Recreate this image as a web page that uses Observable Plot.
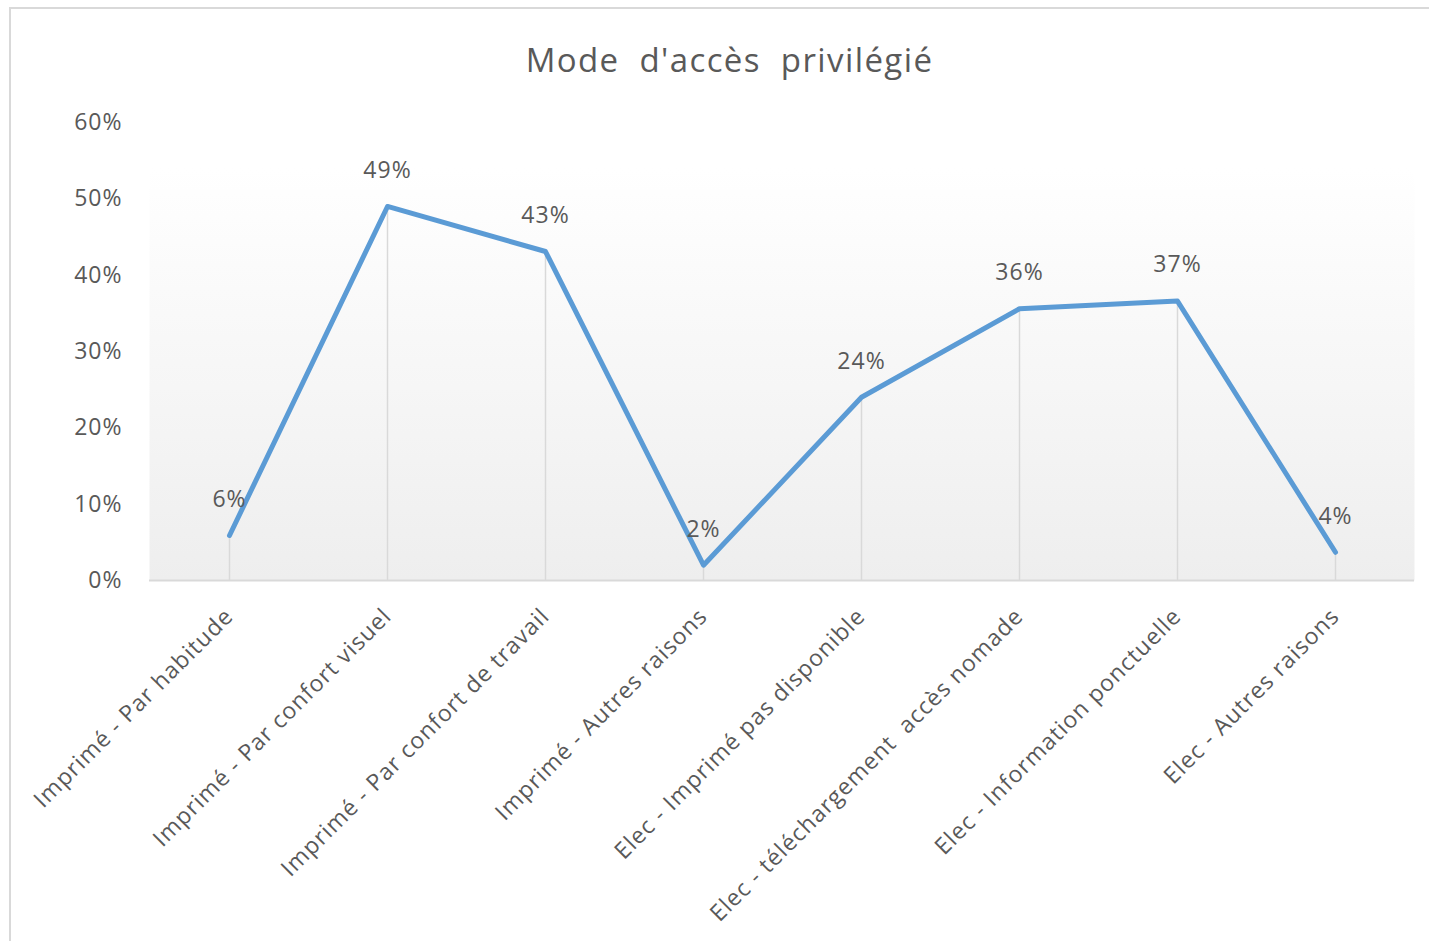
<!DOCTYPE html>
<html>
<head>
<meta charset="utf-8">
<script src="https://cdn.jsdelivr.net/npm/d3@7"></script>
<script src="https://cdn.jsdelivr.net/npm/@observablehq/plot@0.6"></script>
<style>
  body { margin: 0; background: #fff; font-family: "Open Sans", sans-serif; }
  #border { position: absolute; left: 9px; top: 7px; width: 1440px; height: 960px; border: 2px solid #d9d9d9; box-sizing: border-box; }
  #chart { position: absolute; left: 0; top: 0; width: 1429px; }
  #title { height: 100px; box-sizing: border-box; padding-top: 43px; padding-left: 30px; text-align: center; font-size: 33px; line-height: 33px; letter-spacing: 1.4px; word-spacing: 10px; color: #595959; }
  #chart svg text { letter-spacing: 1px; }
</style>
</head>
<body>
<div id="border"></div>
<div id="chart">
  <div id="title">Mode d'accès privilégié</div>
</div>
<script>
const categories = [
  "Imprimé - Par habitude",
  "Imprimé - Par confort visuel",
  "Imprimé - Par confort de travail",
  "Imprimé - Autres raisons",
  "Elec - Imprimé pas disponible",
  "Elec - téléchargement  accès nomade",
  "Elec - Information ponctuelle",
  "Elec - Autres raisons"
];
const values = [0.059, 0.49, 0.431, 0.02, 0.24, 0.356, 0.366, 0.037];
const yTicks = [0, 0.1, 0.2, 0.3, 0.4, 0.5, 0.6];

const data = categories.map((c, i) => ({category: c, value: values[i]}));
const pct = d3.format(".0%");

const plot = Plot.plot({
  width: 1429,
  height: 841,
  marginTop: 22,
  marginBottom: 361,
  marginLeft: 149,
  marginRight: 15,
  style: {fontFamily: "Open Sans, sans-serif", fontSize: "23px", color: "#595959", background: "transparent"},
  x: {type: "point", domain: categories, padding: 0.5, label: null, tickSize: 0, tickRotate: -45, tickPadding: 32},
  y: {domain: [0, 0.6], ticks: yTicks, tickFormat: pct, label: null, tickSize: 0, tickPadding: 27},
  marks: [
    Plot.frame({fill: "url(#bggrad)", stroke: "none"}),
    Plot.ruleY([0], {stroke: "#d9d9d9", strokeWidth: 2}),
    Plot.ruleX(data, {x: "category", y1: 0, y2: "value", stroke: "#d9d9d9", strokeWidth: 1.5}),
    Plot.line(data, {x: "category", y: "value", stroke: "#5b9bd5", strokeWidth: 5, strokeLinejoin: "round", strokeLinecap: "round"}),
    Plot.text(data, {x: "category", y: "value", text: d => pct(d.value), dy: -36, fill: "#595959", fontSize: 23})
  ]
});

const defs = d3.select(plot).insert("defs", ":first-child");
const g = defs.append("linearGradient").attr("id", "bggrad").attr("x1", 0).attr("y1", 0).attr("x2", 0).attr("y2", 1);
g.append("stop").attr("offset", "0.1").attr("stop-color", "#ffffff");
g.append("stop").attr("offset", "1").attr("stop-color", "#eeeeee");

document.getElementById("chart").appendChild(plot);
</script>
</body>
</html>
